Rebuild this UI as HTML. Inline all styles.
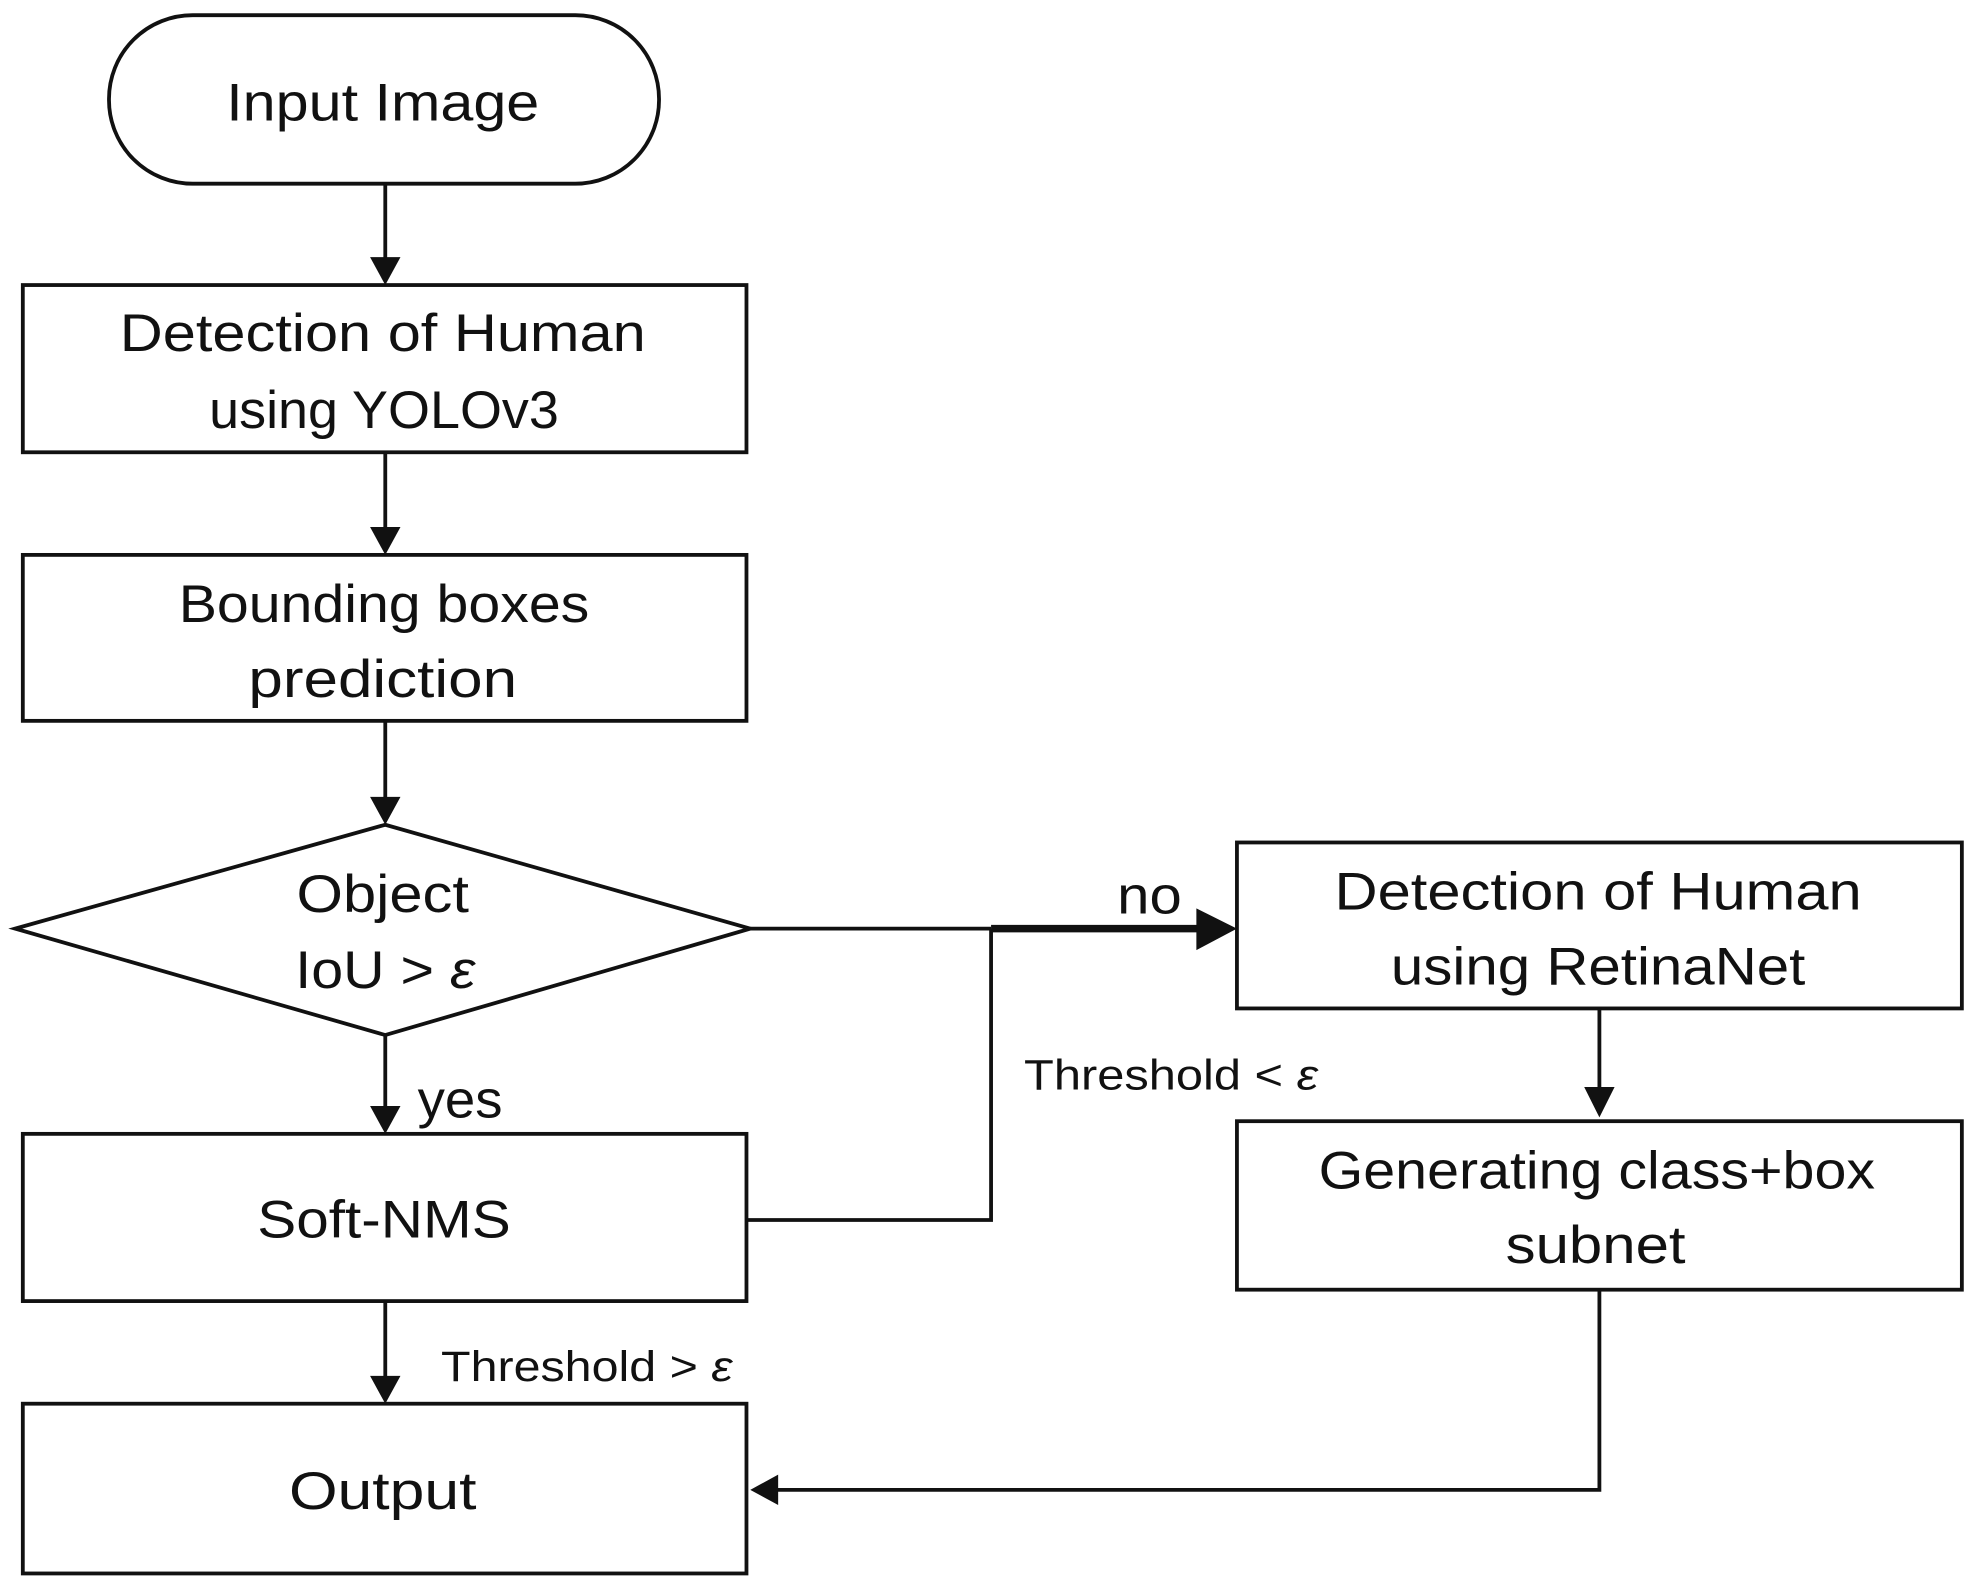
<!DOCTYPE html>
<html><head><meta charset="utf-8"><style>
html,body{margin:0;padding:0;background:#fff;}
svg{display:block;}
text{font-family:"Liberation Sans",sans-serif;fill:#111;text-anchor:middle;}
</style></head><body>
<svg width="1972" height="1576" viewBox="0 0 1556 1244" preserveAspectRatio="none" xmlns="http://www.w3.org/2000/svg">
<g fill="none" stroke="#111" stroke-width="3">
<rect x="86" y="12" width="434" height="133" rx="66" ry="66"/>
<rect x="18" y="225" width="571" height="132"/>
<rect x="18" y="438" width="571" height="131"/>
<polygon points="12,733 304,651 592,733 304,817"/>
<rect x="18" y="895" width="571" height="132"/>
<rect x="18" y="1108" width="571" height="134"/>
<rect x="976" y="665" width="572" height="131"/>
<rect x="976" y="885" width="572" height="133"/>
<line x1="304" y1="145" x2="304" y2="205"/>
<line x1="304" y1="357" x2="304" y2="418"/>
<line x1="304" y1="569" x2="304" y2="631"/>
<line x1="304" y1="817" x2="304" y2="875"/>
<line x1="304" y1="1027" x2="304" y2="1088"/>
<line x1="592" y1="733" x2="782" y2="733"/>
<polyline points="589,963 782,963 782,733"/>
<line x1="782" y1="733" x2="948" y2="733" stroke-width="6"/>
<line x1="1262" y1="796" x2="1262" y2="860"/>
<polyline points="1262,1018 1262,1176 612,1176"/>
</g>
<g fill="#111">
<polygon points="292,203 316,203 304,225"/>
<polygon points="292,416 316,416 304,438"/>
<polygon points="292,629 316,629 304,651"/>
<polygon points="292,873 316,873 304,895"/>
<polygon points="292,1086 316,1086 304,1108"/>
<polygon points="944,717 944,750 976,733"/>
<polygon points="1250,858 1274,858 1262,882"/>
<polygon points="614,1164 614,1188 592,1176"/>
</g>
<g font-size="42">
<text x="302" y="95" textLength="247" lengthAdjust="spacingAndGlyphs">Input Image</text>
<text x="302" y="277" textLength="415" lengthAdjust="spacingAndGlyphs">Detection of Human</text>
<text x="303" y="338" textLength="276" lengthAdjust="spacingAndGlyphs">using YOLOv3</text>
<text x="303" y="491" textLength="324" lengthAdjust="spacingAndGlyphs">Bounding boxes</text>
<text x="302" y="550" textLength="212" lengthAdjust="spacingAndGlyphs">prediction</text>
<text x="302" y="720" textLength="136" lengthAdjust="spacingAndGlyphs">Object</text>
<text x="304" y="780" textLength="142" lengthAdjust="spacingAndGlyphs">IoU &gt; <tspan font-style="italic">ε</tspan></text>
<text x="303" y="977" textLength="200" lengthAdjust="spacingAndGlyphs">Soft-NMS</text>
<text x="302" y="1191" textLength="148" lengthAdjust="spacingAndGlyphs">Output</text>
<text x="1261" y="718" textLength="416" lengthAdjust="spacingAndGlyphs">Detection of Human</text>
<text x="1261" y="777" textLength="327" lengthAdjust="spacingAndGlyphs">using RetinaNet</text>
<text x="1260" y="938" textLength="439" lengthAdjust="spacingAndGlyphs">Generating class+box</text>
<text x="1259" y="997" textLength="142" lengthAdjust="spacingAndGlyphs">subnet</text>
<text x="907" y="721" textLength="51" lengthAdjust="spacingAndGlyphs">no</text>
<text x="363" y="882" textLength="67" lengthAdjust="spacingAndGlyphs">yes</text>
</g>
<g font-size="34">
<text x="463" y="1090" textLength="230" lengthAdjust="spacingAndGlyphs">Threshold &gt; <tspan font-style="italic">ε</tspan></text>
<text x="924" y="860" textLength="232" lengthAdjust="spacingAndGlyphs">Threshold &lt; <tspan font-style="italic">ε</tspan></text>
</g>
</svg>
</body></html>
